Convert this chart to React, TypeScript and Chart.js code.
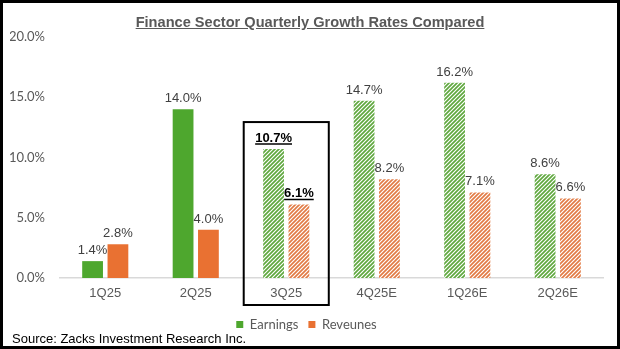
import React, { useEffect, useRef } from 'react';
import { Chart, registerables } from 'chart.js';

Chart.register(...registerables);

const categories = ['1Q25', '2Q25', '3Q25', '4Q25E', '1Q26E', '2Q26E'];
const earnings = [1.4, 14.0, 10.7, 14.7, 16.2, 8.6];
const revenues = [2.8, 4.0, 6.1, 8.2, 7.1, 6.6];
const seriesNames = ['Earnings', 'Reveunes'];
const yMin = 0;
const yMax = 20;
const yStep = 5;
const firstHatchedIndex = 2;
const highlightIndex = 2;
const titleText = 'Finance Sector Quarterly Growth Rates Compared';
const sourceText = 'Source: Zacks Investment Research Inc.';

const GREEN = '#4EA72E';
const ORANGE = '#E97132';
const GREEN_HATCH = '#5FA83E';
const ORANGE_HATCH = '#E27B45';

function makePattern(color: string): CanvasPattern | string {
  const c = document.createElement('canvas');
  const s = 4;
  c.width = s;
  c.height = s;
  const g = c.getContext('2d');
  if (!g) return color;
  g.fillStyle = '#ffffff';
  g.fillRect(0, 0, s, s);
  g.strokeStyle = color;
  g.lineWidth = 1.7;
  g.beginPath();
  g.moveTo(0, s);
  g.lineTo(s, 0);
  g.moveTo(-1, 1);
  g.lineTo(1, -1);
  g.moveTo(s - 1, s + 1);
  g.lineTo(s + 1, s - 1);
  g.stroke();
  const p = g.createPattern(c, 'repeat');
  return p || color;
}

const valueLabelPlugin = {
  id: 'valueLabels',
  afterDatasetsDraw(chart: any) {
    const ctx = chart.ctx;
    ctx.save();
    chart.data.datasets.forEach((ds: any, di: number) => {
      const meta = chart.getDatasetMeta(di);
      meta.data.forEach((bar: any, i: number) => {
        const v = ds.data[i];
        const text = v.toFixed(1) + '%';
        const bold = i === highlightIndex;
        ctx.font = (bold ? 'bold ' : '') + '13px "Liberation Sans", Arial, sans-serif';
        ctx.fillStyle = bold ? '#000000' : '#404040';
        ctx.textAlign = 'center';
        ctx.textBaseline = 'alphabetic';
        const ty = bar.y - 7;
        ctx.fillText(text, bar.x, ty);
        if (bold) {
          const w = ctx.measureText(text).width;
          ctx.strokeStyle = '#000000';
          ctx.lineWidth = 1.5;
          ctx.beginPath();
          ctx.moveTo(bar.x - w / 2, ty + 2);
          ctx.lineTo(bar.x + w / 2, ty + 2);
          ctx.stroke();
        }
      });
    });
    ctx.restore();
  },
};

const highlightBoxPlugin = {
  id: 'highlightBox',
  afterDraw(chart: any) {
    const ctx = chart.ctx;
    const xs = chart.scales.x;
    const ys = chart.scales.y;
    const cx = xs.getPixelForValue(highlightIndex);
    const catW = xs.width / categories.length;
    const halfW = (catW * 0.94) / 2;
    const top = ys.getPixelForValue(Math.max(earnings[highlightIndex], revenues[highlightIndex])) - 27;
    const bottom = chart.chartArea.bottom + 27;
    ctx.save();
    ctx.strokeStyle = '#000000';
    ctx.lineWidth = 2;
    ctx.strokeRect(cx - halfW, top, halfW * 2, bottom - top);
    ctx.restore();
  },
};

export default function App() {
  const canvasRef = useRef<HTMLCanvasElement | null>(null);

  useEffect(() => {
    document.body.style.margin = '0';
    const canvas = canvasRef.current;
    if (!canvas) return;
    const gPat = makePattern(GREEN_HATCH);
    const oPat = makePattern(ORANGE_HATCH);
    const earnBg = earnings.map((_, i) => (i >= firstHatchedIndex ? gPat : GREEN));
    const revBg = revenues.map((_, i) => (i >= firstHatchedIndex ? oPat : ORANGE));

    const chart = new Chart(canvas, {
      type: 'bar',
      data: {
        labels: categories,
        datasets: [
          { label: seriesNames[0], data: earnings, backgroundColor: earnBg as any, borderWidth: 0 },
          { label: seriesNames[1], data: revenues, backgroundColor: revBg as any, borderWidth: 0 },
        ],
      },
      options: {
        animation: false,
        responsive: false,
        maintainAspectRatio: false,
        devicePixelRatio: 1,
        layout: { padding: { left: 10, right: 17, top: 37, bottom: 8 } },
        datasets: {
          bar: { categoryPercentage: 0.56, barPercentage: 0.82 },
        } as any,
        scales: {
          x: {
            grid: { display: false, drawTicks: false },
            border: { display: true, color: '#D9D9D9', width: 1.5 },
            ticks: {
              padding: 8,
              color: '#595959',
              font: { family: '"Liberation Sans", Arial, sans-serif', size: 13 },
            },
            afterFit(scale: any) {
              scale.height = 30;
            },
          },
          y: {
            min: yMin,
            max: yMax,
            grid: { display: false, drawTicks: false },
            border: { display: false },
            ticks: {
              stepSize: yStep,
              padding: 15,
              color: '#595959',
              font: { family: 'Lato, sans-serif', size: 13 },
              callback: (v: any) => Number(v).toFixed(1) + '%',
            },
            afterFit(scale: any) {
              scale.width = 50;
            },
          },
        },
        plugins: {
          title: { display: false },
          tooltip: { enabled: false },
          legend: {
            position: 'bottom',
            labels: {
              boxWidth: 7,
              boxHeight: 7,
              padding: 10,
              color: '#595959',
              font: { family: 'Lato, sans-serif', size: 13 },
              generateLabels: () => [
                { text: seriesNames[0], fillStyle: GREEN, strokeStyle: GREEN, lineWidth: 0, fontColor: '#595959', datasetIndex: 0, hidden: false },
                { text: seriesNames[1], fillStyle: ORANGE, strokeStyle: ORANGE, lineWidth: 0, fontColor: '#595959', datasetIndex: 1, hidden: false },
              ] as any,
            },
          },
        },
      },
      plugins: [valueLabelPlugin, highlightBoxPlugin],
    });
    return () => chart.destroy();
  }, []);

  return (
    <div style={{ position: 'relative', width: 620, height: 349, background: '#ffffff', overflow: 'hidden' }}>
      <canvas ref={canvasRef} width={620} height={349} style={{ position: 'absolute', left: 0, top: 0, width: 620, height: 349 }} />
      <div
        style={{
          position: 'absolute',
          top: 13,
          left: 0,
          width: 620,
          textAlign: 'center',
          font: 'bold 14.6px "Liberation Sans", Arial, sans-serif',
          lineHeight: '18px',
          color: '#595959',
          textDecoration: 'underline',
        }}
      >
        {titleText}
      </div>
      <div
        style={{
          position: 'absolute',
          left: 12,
          top: 331,
          font: '13px "Liberation Sans", Arial, sans-serif',
          lineHeight: '16px',
          color: '#000000',
          whiteSpace: 'nowrap',
        }}
      >
        {sourceText}
      </div>
      <div
        style={{
          position: 'absolute',
          left: 0,
          top: 0,
          width: 620,
          height: 349,
          boxSizing: 'border-box',
          border: '3px solid #000000',
          pointerEvents: 'none',
        }}
      />
    </div>
  );
}
